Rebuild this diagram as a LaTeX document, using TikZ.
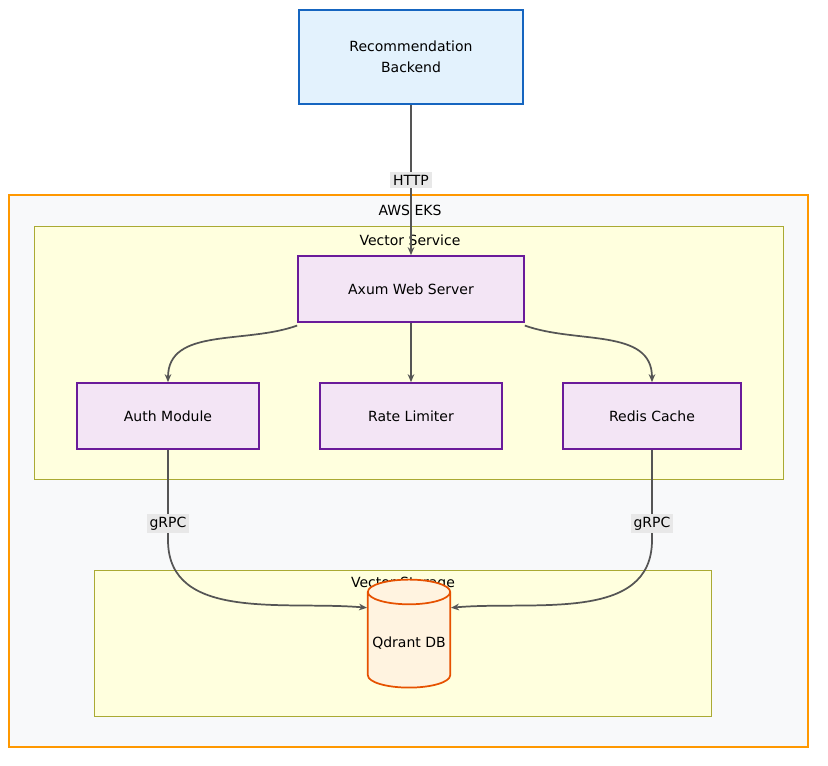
\documentclass[tikz,border=0pt]{standalone}
\usepackage{fontspec}
\setmainfont{DejaVu Sans}
\usetikzlibrary{arrows.meta,shapes.geometric}
\definecolor{bluefill}{HTML}{E3F2FD}
\definecolor{bluedraw}{HTML}{1565C0}
\definecolor{purpfill}{HTML}{F3E5F5}
\definecolor{purpdraw}{HTML}{6A1B9A}
\definecolor{orfill}{HTML}{FFF3E0}
\definecolor{ordraw}{HTML}{E65100}
\definecolor{eksdraw}{HTML}{FF9800}
\definecolor{eksfill}{HTML}{F8F9FA}
\definecolor{grpfill}{HTML}{FFFFDE}
\definecolor{grpdraw}{HTML}{AAAA33}
\definecolor{edge}{HTML}{555555}
\definecolor{lbl}{HTML}{E8E8E8}
\begin{document}
\begin{tikzpicture}[x=0.75pt,y=-0.75pt,font=\fontsize{10.5}{16}\selectfont,
    comp/.style={draw=purpdraw,fill=purpfill,line width=1.3pt,minimum height=49.5pt,inner sep=0pt},
    group/.style={draw=grpdraw,fill=grpfill,line width=0.6pt},
    link/.style={draw=edge,line width=1.3pt,-{Stealth[length=6pt,width=5pt]}},
    tag/.style={fill=lbl,inner sep=2pt}]
    \useasboundingbox (0,0) rectangle (828,765);
    % Draw the clusters
    \draw[draw=eksdraw,fill=eksfill,line width=1.3pt] (9,195) rectangle (808,747);
    \node (eks) at (410,210) {AWS EKS};
    \draw[group] (34,226) rectangle (783,479);
    \node (svc) at (410,240) {Vector Service};
    \draw[group] (94,570) rectangle (711,716);
    \node (stor) at (403,584) {Vector Storage};
    % Draw the nodes
    \node[draw=bluedraw,fill=bluefill,line width=1.3pt,minimum width=168pt,minimum height=70.5pt,align=center] (backend) at (411,57) {Recommendation\\Backend};
    \node[comp,minimum width=169.5pt] (axum) at (411,289) {Axum Web Server};
    \node[comp,minimum width=136.5pt] (auth) at (168,416) {Auth Module};
    \node[comp,minimum width=136.5pt] (rate) at (411,416) {Rate Limiter};
    \node[comp,minimum width=133.5pt] (redis) at (652,416) {Redis Cache};
    \node[cylinder,shape border rotate=90,aspect=0.3,draw=ordraw,fill=orfill,line width=1.3pt,minimum width=61.5pt,minimum height=81pt] (qdrant) at (409,643) {Qdrant DB};
    % Draw the connectors
    \draw[link] (backend) -- node[tag] {HTTP} (axum);
    \draw[link] (axum.south west) ++(0,-2pt) to[out=200,in=90] (auth.north);
    \draw[link] (axum) -- (rate);
    \draw[link] (axum.south east) ++(0,-2pt) to[out=-20,in=90] (redis.north);
    \coordinate (al) at (168,540);
    \coordinate (rl) at (652,540);
    \draw[link] (auth) -- node[tag,pos=0.82] {gRPC} (al) to[out=270,in=175] (qdrant.140);
    \draw[link] (redis) -- node[tag,pos=0.82] {gRPC} (rl) to[out=270,in=5] (qdrant.40);
\end{tikzpicture}
\end{document}
